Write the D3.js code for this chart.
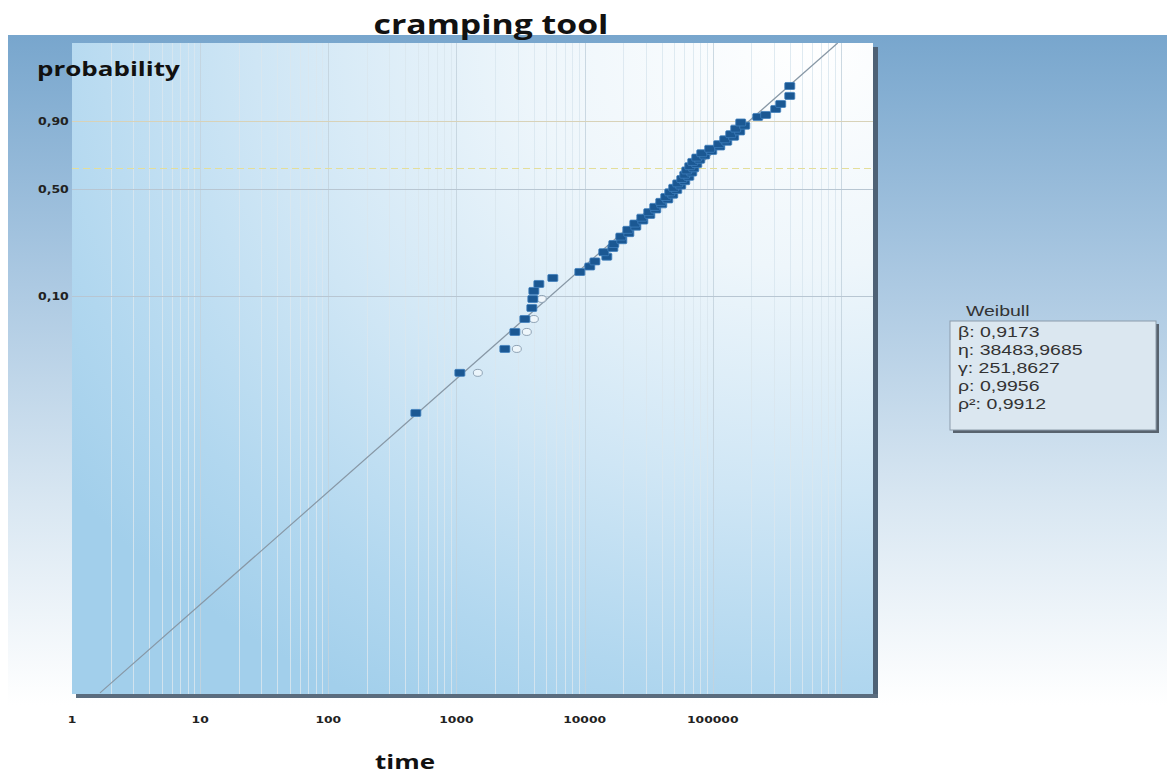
<!DOCTYPE html>
<html><head><meta charset="utf-8">
<script src="https://cdn.jsdelivr.net/npm/d3@7"></script>
<style>html,body{margin:0;padding:0;background:#fff;}svg{display:block;}</style>
</head><body>
<svg id="c" width="1167" height="778"></svg>
<script>
// ---------- data ----------
const title = "cramping tool";
const xTitle = "time";
const yTitle = "probability";
const xTicks = [1, 10, 100, 1000, 10000, 100000];
const xTickLabels = ["1", "10", "100", "1000", "10000", "100000"];
const yTicks = [0.10, 0.50, 0.90];
const yTickLabels = ["0,10", "0,50", "0,90"];
const charLifeProb = 0.632;
const xDomain = [1, 1780000];
const yDomainProb = [0.000093, 0.99989];

// failures (filled markers): time and median-rank probability
const failTimes = [482, 1063, 2386, 2856, 3418, 3873, 3944, 4016, 4395, 5649, 9180,
  10970, 12030, 14900, 14110, 16610, 16890, 19510, 19160, 22140, 21740, 25100, 24650, 28460,
  27960, 32260, 31670, 35920, 35270, 40020, 39300, 44590, 42980, 48730, 46180, 52360, 49580,
  56260, 53280, 60460, 57290, 65040, 60470, 68590, 62680, 71100, 66150, 75040, 69790, 79180,
  75020, 86570, 82060, 98210, 94700, 113400, 111300, 128600, 124000, 145700, 138100, 162300,
  151100, 177700, 165300, 224400, 258900, 309900, 339000, 399000, 399000];
const failProbs = [0.0132, 0.0266, 0.0403, 0.0540, 0.0674, 0.0813, 0.0946, 0.1082, 0.1215, 0.1341, 0.1479,
  0.1616, 0.1754, 0.1892, 0.2030, 0.2169, 0.2307, 0.2445, 0.2583, 0.2721, 0.2859, 0.2997, 0.3135, 0.3273,
  0.3412, 0.3550, 0.3688, 0.3826, 0.3964, 0.4102, 0.4240, 0.4378, 0.4517, 0.4655, 0.4793, 0.4931, 0.5069,
  0.5207, 0.5345, 0.5483, 0.5622, 0.5760, 0.5898, 0.6036, 0.6174, 0.6312, 0.6450, 0.6588, 0.6727, 0.6865,
  0.7003, 0.7141, 0.7279, 0.7417, 0.7555, 0.7693, 0.7831, 0.7970, 0.8108, 0.8246, 0.8384, 0.8522,
  0.8660, 0.8798, 0.8936, 0.9155, 0.9227, 0.9419, 0.9553, 0.9722, 0.9860];
// hollow markers
const openTimes = [1469, 2958, 3541, 4016, 4634];
const openProbs = [0.0266, 0.0403, 0.0540, 0.0674, 0.0946];
// fitted Weibull line end points
const fitTimes = [1.654, 944000];
const fitProbs = [0.0000949, 0.999891];
// legend
const legendTitle = "Weibull";
const legendLines = ["β: 0,9173", "η: 38483,9685", "γ: 251,8627", "ρ: 0,9956", "ρ²: 0,9912"];

// ---------- layout ----------
const W = 1167, H = 778;
const plot = {l: 72, r: 873, t: 43, b: 694};
const SX = 1.3; // horizontal stretch of text seen in reference

const svg = d3.select("#c");
const defs = svg.append("defs");

const frameGrad = defs.append("linearGradient").attr("id", "frameG").attr("x1", 0).attr("y1", 0).attr("x2", 0).attr("y2", 1);
[[0, "#78a6cd"], [0.35, "#a9c7e1"], [0.7, "#d9e7f2"], [1, "#ffffff"]].forEach(s =>
  frameGrad.append("stop").attr("offset", s[0]).attr("stop-color", s[1]));

const plotGrad = defs.append("radialGradient").attr("id", "plotG")
  .attr("cx", 0.92).attr("cy", 0.0).attr("r", 1.15).attr("fx", 0.92).attr("fy", 0.0);
[[0, "#ffffff"], [0.3, "#eef6fb"], [0.6, "#cfe6f5"], [0.85, "#b1d7ef"], [1, "#a2cfeb"]].forEach(s =>
  plotGrad.append("stop").attr("offset", s[0]).attr("stop-color", s[1]));

defs.append("clipPath").attr("id", "clipP").append("rect")
  .attr("x", plot.l).attr("y", plot.t).attr("width", plot.r - plot.l).attr("height", plot.b - plot.t);

// frame
svg.append("rect").attr("x", 8).attr("y", 35).attr("width", W - 8).attr("height", 670).attr("fill", "url(#frameG)");

// shadow of plot
svg.append("rect").attr("x", plot.r).attr("y", plot.t + 4).attr("width", 5).attr("height", plot.b - plot.t).attr("fill", "#4e6175");
svg.append("rect").attr("x", plot.l + 4).attr("y", plot.b).attr("width", plot.r - plot.l + 1).attr("height", 4).attr("fill", "#5a6c7e");
// plot bg
svg.append("rect").attr("x", plot.l).attr("y", plot.t).attr("width", plot.r - plot.l).attr("height", plot.b - plot.t).attr("fill", "url(#plotG)");

// scales
const wb = p => Math.log(-Math.log(1 - p));
const x = d3.scaleLog().domain(xDomain).range([plot.l, plot.r]);
const yl = d3.scaleLinear().domain(yDomainProb.map(wb)).range([plot.b, plot.t]);
const y = p => yl(wb(p));

const g = svg.append("g").attr("clip-path", "url(#clipP)");

// vertical grid
const minor = [];
for (let e = 0; e <= 6; e++) for (let m = 1; m <= 9; m++) {
  const v = m * Math.pow(10, e);
  if (v > xDomain[0] && v < xDomain[1]) minor.push(v);
}
g.selectAll("line.vg").data(minor).join("line").attr("class", "vg")
  .attr("x1", d => Math.round(x(d)) + 0.5).attr("x2", d => Math.round(x(d)) + 0.5)
  .attr("y1", plot.t).attr("y2", plot.b)
  .attr("stroke", d => Math.abs(Math.log10(d) % 1) < 1e-9 ? "#c3d2dd" : "#d9e6ef")
  .attr("stroke-opacity", 0.85)
  .attr("stroke-width", 1);

// horizontal grid
g.selectAll("line.hg").data(yTicks).join("line").attr("class", "hg")
  .attr("x1", plot.l).attr("x2", plot.r)
  .attr("y1", d => Math.round(y(d)) + 0.5).attr("y2", d => Math.round(y(d)) + 0.5)
  .attr("stroke", d => d === 0.90 ? "#d8d2b8" : "#b8c6d2").attr("stroke-width", 1);
g.append("line").attr("x1", plot.l).attr("x2", plot.r)
  .attr("y1", Math.round(y(charLifeProb)) + 0.5).attr("y2", Math.round(y(charLifeProb)) + 0.5)
  .attr("stroke", "#e4de9a").attr("stroke-width", 1.2).attr("stroke-dasharray", "7,4");

// fit line
g.append("path").datum(fitTimes.map((t, i) => [t, fitProbs[i]]))
  .attr("d", d3.line().x(d => x(d[0])).y(d => y(d[1])))
  .attr("fill", "none").attr("stroke", "#8797a5").attr("stroke-width", 1.2);

// open markers
g.selectAll("ellipse.op").data(openTimes.map((t, i) => [t, openProbs[i]])).join("ellipse").attr("class", "op")
  .attr("cx", d => x(d[0])).attr("cy", d => y(d[1])).attr("rx", 4.5).attr("ry", 3.5)
  .attr("fill", "rgba(255,255,255,0.55)").attr("stroke", "#8fa3b5").attr("stroke-width", 1);

// filled markers
g.selectAll("rect.fp").data(failTimes.map((t, i) => [t, failProbs[i]])).join("rect").attr("class", "fp")
  .attr("x", d => x(d[0]) - 5).attr("y", d => y(d[1]) - 3.5).attr("width", 10).attr("height", 7).attr("rx", 1)
  .attr("fill", "#1b5893").attr("stroke", "#3f7fbd").attr("stroke-width", 0.8);

// text helper
function txt(xp, yp, s, opts) {
  const gg = svg.append("g").attr("transform", `translate(${xp},${yp})`);
  gg.append("text").attr("transform", `scale(${opts.sx || SX},1)`)
    .attr("text-anchor", opts.anchor || "start")
    .attr("font-family", opts.family).attr("font-size", opts.size)
    .attr("font-weight", opts.weight || "normal").attr("fill", opts.fill || "#111")
    .text(s);
}

// tick labels
xTicks.forEach((t, i) => txt(x(t), 723, xTickLabels[i],
  {anchor: "middle", family: "DejaVu Sans", size: 9.5, weight: "bold", fill: "#222"}));
yTicks.forEach((p, i) => txt(38, y(p) + 4, yTickLabels[i],
  {family: "DejaVu Sans", size: 10, weight: "bold", fill: "#222", sx: 1.25}));

// titles
txt(491, 34, title, {anchor: "middle", family: "Open Sans", size: 26, weight: "bold", fill: "#111"});
txt(37, 76, yTitle, {family: "Open Sans", size: 20, weight: "bold", fill: "#111"});
txt(405, 769, xTitle, {anchor: "middle", family: "Open Sans", size: 20, weight: "bold", fill: "#111"});

// legend
const lg = {x: 950, y: 321, w: 206, h: 109};
svg.append("rect").attr("x", lg.x + 3).attr("y", lg.y + 3).attr("width", lg.w).attr("height", lg.h).attr("fill", "#58636e");
svg.append("rect").attr("x", lg.x).attr("y", lg.y).attr("width", lg.w).attr("height", lg.h)
  .attr("fill", "#dbe7f0").attr("stroke", "#8c9cab").attr("stroke-width", 1);
txt(966, 316, legendTitle, {family: "Liberation Sans", size: 15, fill: "#333"});
legendLines.forEach((s, i) => txt(958, 337 + i * 18, s, {family: "Liberation Sans", size: 15, fill: "#333"}));
</script>
</body></html>
